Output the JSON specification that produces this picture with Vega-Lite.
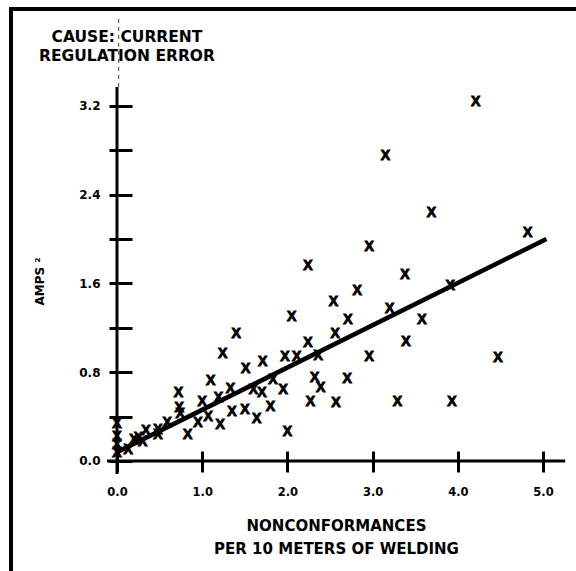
{
  "$schema": "https://vega.github.io/schema/vega-lite/v6.json",
  "width": 565,
  "height": 562,
  "autosize": {"type": "none"},
  "padding": {"left": 11, "top": 9, "right": 0, "bottom": 0},
  "background": "white",
  "config": {
    "view": {"stroke": "black", "strokeWidth": 4, "strokeDash": [565, 1127, 566], "fill": "white"},
    "axis": {
      "grid": false,
      "domain": false,
      "tickColor": "black",
      "tickWidth": 3,
      "labelFont": "DejaVu Sans",
      "labelFontWeight": "bold",
      "labelColor": "black",
      "titleFont": "DejaVu Sans",
      "titleFontWeight": "bold",
      "titleColor": "black"
    }
  },
  "title": {
    "text": ["CAUSE: CURRENT", "REGULATION ERROR"],
    "anchor": "start",
    "align": "center",
    "frame": "group",
    "dx": 116,
    "offset": -55,
    "font": "DejaVu Sans",
    "fontSize": 15.5,
    "fontWeight": "bold",
    "lineHeight": 18.5,
    "color": "black"
  },
  "datasets": {
    "points": [
      {"x": 4.21, "y": 3.23}, {"x": 3.15, "y": 2.75}, {"x": 3.69, "y": 2.23}, {"x": 4.82, "y": 2.05},
      {"x": 2.96, "y": 1.93}, {"x": 2.24, "y": 1.76}, {"x": 3.38, "y": 1.68}, {"x": 3.91, "y": 1.58},
      {"x": 2.82, "y": 1.53}, {"x": 2.54, "y": 1.43}, {"x": 3.20, "y": 1.37}, {"x": 2.05, "y": 1.30},
      {"x": 2.71, "y": 1.27}, {"x": 3.58, "y": 1.27}, {"x": 1.40, "y": 1.14}, {"x": 2.56, "y": 1.14},
      {"x": 2.24, "y": 1.06}, {"x": 3.39, "y": 1.07}, {"x": 1.24, "y": 0.96}, {"x": 1.97, "y": 0.94},
      {"x": 2.11, "y": 0.94}, {"x": 2.36, "y": 0.95}, {"x": 2.96, "y": 0.94}, {"x": 4.47, "y": 0.93},
      {"x": 1.71, "y": 0.89}, {"x": 1.51, "y": 0.83}, {"x": 1.10, "y": 0.72}, {"x": 1.83, "y": 0.73},
      {"x": 2.32, "y": 0.75}, {"x": 2.70, "y": 0.74}, {"x": 2.39, "y": 0.66}, {"x": 1.33, "y": 0.65},
      {"x": 1.95, "y": 0.64}, {"x": 1.60, "y": 0.64}, {"x": 1.70, "y": 0.61}, {"x": 0.72, "y": 0.61},
      {"x": 1.19, "y": 0.57}, {"x": 1.00, "y": 0.53}, {"x": 2.27, "y": 0.53}, {"x": 2.57, "y": 0.52},
      {"x": 3.29, "y": 0.53}, {"x": 3.93, "y": 0.53}, {"x": 0.73, "y": 0.48}, {"x": 1.35, "y": 0.44},
      {"x": 1.50, "y": 0.46}, {"x": 1.80, "y": 0.49}, {"x": 1.07, "y": 0.40}, {"x": 0.74, "y": 0.42},
      {"x": 1.21, "y": 0.32}, {"x": 1.64, "y": 0.38}, {"x": 0.95, "y": 0.34}, {"x": 2.00, "y": 0.26},
      {"x": 0.83, "y": 0.23}, {"x": 0.59, "y": 0.34}, {"x": 0.48, "y": 0.28}, {"x": 0.34, "y": 0.27},
      {"x": 0.48, "y": 0.23}, {"x": 0.25, "y": 0.21}, {"x": 0.20, "y": 0.19}, {"x": 0.13, "y": 0.10},
      {"x": 0.30, "y": 0.17}, {"x": 0.0, "y": 0.33}, {"x": 0.0, "y": 0.22}, {"x": 0.0, "y": 0.14},
      {"x": 0.0, "y": 0.07}
    ],
    "fit": [
      {"x": 0.0, "y": 0.08},
      {"x": 5.04, "y": 2.0}
    ],
    "axislines": [
      {"x": -0.117, "x2": 5.26, "y": 0, "y2": 0},
      {"x": 0, "x2": 0, "y": -0.117, "y2": 3.37}
    ],
    "scanline": [
      {"x": 0.02, "y": 3.37, "y2": 4.02}
    ]
  },
  "layer": [
    {
      "data": {"name": "points"},
      "mark": {"type": "text", "text": "X", "font": "Liberation Sans", "fontWeight": "bold", "fontSize": 14, "align": "center", "baseline": "middle", "color": "black", "stroke": "black", "strokeWidth": 1},
      "encoding": {
        "x": {
          "field": "x", "type": "quantitative",
          "scale": {"domain": [-1.244, 5.387], "nice": false, "zero": false},
          "axis": {
            "orient": "bottom", "offset": -110,
            "values": [0, 1, 2, 3, 4, 5], "format": ".1f",
            "tickSize": 11, "labelPadding": 14, "labelFontSize": 11.5,
            "title": ["NONCONFORMANCES", "PER 10 METERS OF WELDING"],
            "titleFontSize": 15, "titleLineHeight": 23, "titlePadding": 21, "titleX": 325
          }
        },
        "y": {
          "field": "y", "type": "quantitative",
          "scale": {"domain": [-0.991, 4.072], "nice": false, "zero": false},
          "axis": {
            "orient": "left", "offset": -107,
            "values": [0, 0.4, 0.8, 1.2, 1.6, 2.0, 2.4, 2.8, 3.2],
            "labelExpr": "indexof(['0.0','0.8','1.6','2.4','3.2'], format(datum.value, '.1f')) >= 0 ? format(datum.value, '.1f') : ''",
            "tickSize": 9, "labelPadding": 9, "labelFontSize": 12,
            "title": "AMPS ²", "titleFontSize": 12, "titlePadding": 32, "titleY": 272
          }
        }
      }
    },
    {
      "data": {"name": "fit"},
      "mark": {"type": "line", "color": "black", "strokeWidth": 4.5},
      "encoding": {
        "x": {
          "field": "x", "type": "quantitative",
          "scale": {"domain": [-1.244, 5.387], "nice": false, "zero": false},
          "axis": {"orient": "top", "offset": -452, "values": [0, 1, 2, 3, 4, 5], "tickSize": 10, "labels": false, "title": null}
        },
        "y": {
          "field": "y", "type": "quantitative",
          "scale": {"domain": [-0.991, 4.072], "nice": false, "zero": false},
          "axis": {"orient": "right", "offset": -458, "values": [0, 0.4, 0.8, 1.2, 1.6, 2.0, 2.4, 2.8, 3.2], "tickSize": 14, "labels": false, "title": null}
        }
      }
    },
    {
      "data": {"name": "axislines"},
      "mark": {"type": "rule", "color": "black", "strokeWidth": 3},
      "encoding": {
        "x": {"field": "x", "type": "quantitative", "scale": {"domain": [-1.244, 5.387], "nice": false, "zero": false}, "axis": null},
        "x2": {"field": "x2"},
        "y": {"field": "y", "type": "quantitative", "scale": {"domain": [-0.991, 4.072], "nice": false, "zero": false}, "axis": null},
        "y2": {"field": "y2"}
      }
    },
    {
      "data": {"name": "scanline"},
      "mark": {"type": "rule", "color": "#444", "strokeWidth": 1, "strokeDash": [4, 4]},
      "encoding": {
        "x": {"field": "x", "type": "quantitative", "scale": {"domain": [-1.244, 5.387], "nice": false, "zero": false}, "axis": null},
        "y": {"field": "y", "type": "quantitative", "scale": {"domain": [-0.991, 4.072], "nice": false, "zero": false}, "axis": null},
        "y2": {"field": "y2"}
      }
    }
  ],
  "resolve": {"axis": {"x": "independent", "y": "independent"}}
}
